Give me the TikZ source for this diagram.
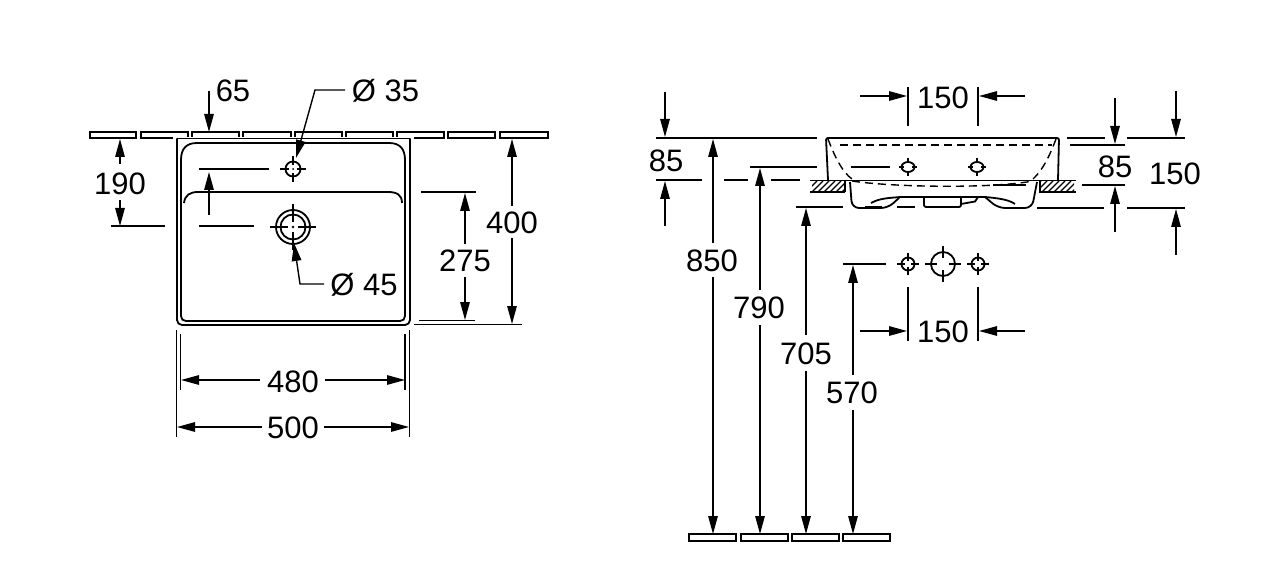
\documentclass[tikz,border=0pt]{standalone}
\usepackage{fontspec}
\setmainfont{Liberation Sans}
\usetikzlibrary{arrows.meta}
\tikzset{
  dim/.style={line width=1.4pt,-{Triangle[length=18pt,width=9.5pt]}},
  thin line/.style={line width=1.4pt},
  part/.style={line width=1.8pt},
  hid/.style={line width=1.4pt,dash pattern=on 8pt off 5pt},
  tile/.style={line width=1.4pt,draw=black,fill=white},
  lab/.style={font=\fontsize{31}{31}\selectfont,inner sep=0pt,text=black,anchor=center},
}
\newcommand{\ticks}[4]{% centre x, centre y, inner, outer
  \draw[thin line] (#1-#4,#2) -- (#1-#3,#2) (#1+#3,#2) -- (#1+#4,#2)
    (#1,#2-#4) -- (#1,#2-#3) (#1,#2+#3) -- (#1,#2+#4);}
\begin{document}
\begin{tikzpicture}[x=1pt,y=-1pt]
\useasboundingbox[fill=white] (0,0) rectangle (1263,585);
% --- plan view: wall tiles
\foreach \a/\b in {90/136,141/188,192/239,243/291,295/342,346/393,397/444,448/495,500/548}
  \draw[tile] (\a,132) rectangle (\b,138);
% basin outer and inner
\fill[white] (172.5,136.8) rectangle (414,142);
\draw[part] (177,138.5) -- (410,138.5);
\draw[part,rounded corners=5pt] (177,138.5) -- (177,325) -- (410,325) -- (410,138.5);
\draw[part] (181,160) .. controls (181,149) and (186,143) .. (197,143) -- (389,143) .. controls (400,143) and (405,149) .. (405,160)
  -- (405,316) .. controls (405,319) and (403,321) .. (400,321) -- (186,321) .. controls (183,321) and (181,319) .. (181,316) -- cycle;
\draw[part] (184,203) .. controls (185,195) and (190,192) .. (198,192) -- (388,192) .. controls (397,192) and (402,195) .. (402,203);
% holes
\draw[part] (293,169) circle (7.5);
\ticks{293}{169}{4}{13}
\fill (293,169) circle (1);
\draw[part] (293,227) circle (17) (293,227) circle (12.5);
\ticks{293}{227}{5}{23}
\fill (293,227) circle (1.3);
% plan dims
\draw[thin line] (199,169) -- (269,169) (199,226) -- (254,226) (111,226) -- (165,226);
\draw[dim] (209,91) -- (209,132);
\draw[dim] (209,215) -- (209,172);
\draw[dim] (120,164) -- (120,139);
\draw[dim] (120,200) -- (120,226);
\node[lab] (t65) at (233,91) {65};
\node[lab] (t190) at (120,184) {190};
\draw[dim] (345,90) -- (315,90) -- (296,158);
\node[lab] (td35) at (385.5,91) {Ø 35};
\draw[dim] (324,284) -- (300,284) -- (294,243);
\node[lab] (td45) at (364,285) {Ø 45};
\draw[thin line] (421,192) -- (476,192) (419,320.5) -- (475,320.5) (414,324.5) -- (522,324.5);
\draw[dim] (465,244) -- (465,193);
\draw[dim] (465,277) -- (465,320);
\node[lab] (t275) at (465,261) {275};
\draw[dim] (512,206) -- (512,139);
\draw[dim] (512,238) -- (512,324);
\node[lab] (t400) at (512,223) {400};
\draw[thin line] (176.5,330) -- (176.5,437) (180.5,334) -- (180.5,390) (405,334) -- (405,390) (409.5,330) -- (409.5,437);
\draw[dim] (260,380) -- (181,380);
\draw[dim] (325,380) -- (405,380);
\node[lab] (t480) at (293,382) {480};
\draw[dim] (262,427) -- (177,427);
\draw[dim] (324,427) -- (409,427);
\node[lab] (t500) at (293,428) {500};
% --- section view: hatch walls
\begin{scope}
\clip (812,181) rectangle (845,192);
\foreach \i in {0,6,...,48}
  \draw[line width=1.1pt] (800+\i,192) -- (811+\i,181);
\end{scope}
\begin{scope}
\clip (1040,181) rectangle (1074,192);
\foreach \i in {0,6,...,48}
  \draw[line width=1.1pt] (1030+\i,192) -- (1041+\i,181);
\end{scope}
\draw[part] (810,192) -- (845,192) (845,181) -- (845,192);
\draw[part] (1040,181) -- (1040,192) -- (1076,192);
% basin
\draw[part,rounded corners=2pt] (828,180) -- (826,138) -- (1059,138) -- (1058,180);
\draw[part] (810,180.5) -- (1076,180.5);
\draw[hid] (828,139) .. controls (834,155) and (842,172) .. (852,179);
\draw[hid] (1056,139) .. controls (1050,155) and (1043,170) .. (1033,179);
\draw[hid] (840,145) -- (1052,145);
\draw[hid] (852,181) .. controls (890,187) and (990,189) .. (1033,181);
% bowl
\draw[part,rounded corners=7pt] (850,182) -- (852,208) -- (888,208) -- (900,197);
\draw[part] (900,197) -- (985,197);
\draw[part] (871,203) .. controls (880,198) and (890,198) .. (900,197);
\draw[part,rounded corners=2pt] (924,197) -- (924,207) -- (961,207) -- (961,197);
\draw[part] (961,204) -- (975,201.5) -- (978,197);
\draw[part,rounded corners=7pt] (985,197) -- (998,208) -- (1032,208) -- (1037,182);
\draw[part] (985,197) .. controls (995,198) and (1008,199) .. (1015,204);
% section holes
\foreach \x in {908,977}{
  \draw[part] (\x,167) ellipse (6.5 and 5);
  \ticks{\x}{167}{4}{9}
}
% section dim lines
\draw[thin line] (656,138) -- (817,138) (1067,138) -- (1105,138) (1127,138) -- (1185,138)
  (1070,145) -- (1125,145)
  (750,167) -- (817,167) (851,167) -- (890,167)
  (656,180) -- (702,180) (724,180) -- (748,180) (771,180) -- (800,180)
  (993,185) -- (1026,185) (1082,185) -- (1125,185)
  (796,207) -- (843,207) (865,207) -- (882,207) (897,207) -- (915,207)
  (1037,208) -- (1104,208) (1127,208) -- (1185,208);
\draw[thin line] (908,87) -- (908,126) (978,87) -- (978,126);
\draw[dim] (860,96) -- (907,96);
\draw[dim] (1025,96) -- (979,96);
\node[lab] (t150a) at (943,98) {150};
\draw[dim] (665,92) -- (665,137);
\draw[dim] (665,226) -- (665,181);
\node[lab] (t85a) at (666,161) {85};
\draw[dim] (1115,98) -- (1115,144);
\draw[dim] (1115,232) -- (1115,186);
\node[lab] (t85b) at (1115,167) {85};
\draw[dim] (1176,91) -- (1176,137);
\draw[dim] (1176,255) -- (1176,209);
\node[lab] (t150b) at (1175,174) {150};
% floor tiles
\foreach \a/\b in {689/736,741/788,792/839,843/890}
  \draw[tile] (\a,534) rectangle (\b,541);
% height dims
\draw[dim] (713,243) -- (713,139);
\draw[dim] (713,277) -- (713,534);
\node[lab] (t850) at (712,261) {850};
\draw[dim] (760,290) -- (760,168);
\draw[dim] (760,325) -- (760,534);
\node[lab] (t790) at (759,308) {790};
\draw[dim] (806,335) -- (806,208);
\draw[dim] (806,371) -- (806,534);
\node[lab] (t705) at (806,354) {705};
\draw[dim] (853,375) -- (853,265);
\draw[dim] (853,410) -- (853,534);
\node[lab] (t570) at (852,393) {570};
% wall connection holes
\draw[thin line] (843,264) -- (886,264);
\foreach \x in {908,978}{
  \draw[part] (\x,264) circle (6.5);
  \ticks{\x}{264}{3}{11}
  \draw[thin line] (\x,287) -- (\x,341);
}
\draw[part] (943,264) circle (12);
\ticks{943}{264}{6}{18}
\draw[dim] (860,331) -- (907,331);
\draw[dim] (1025,331) -- (979,331);
\node[lab] (t150c) at (943,332) {150};
\end{tikzpicture}
\end{document}
